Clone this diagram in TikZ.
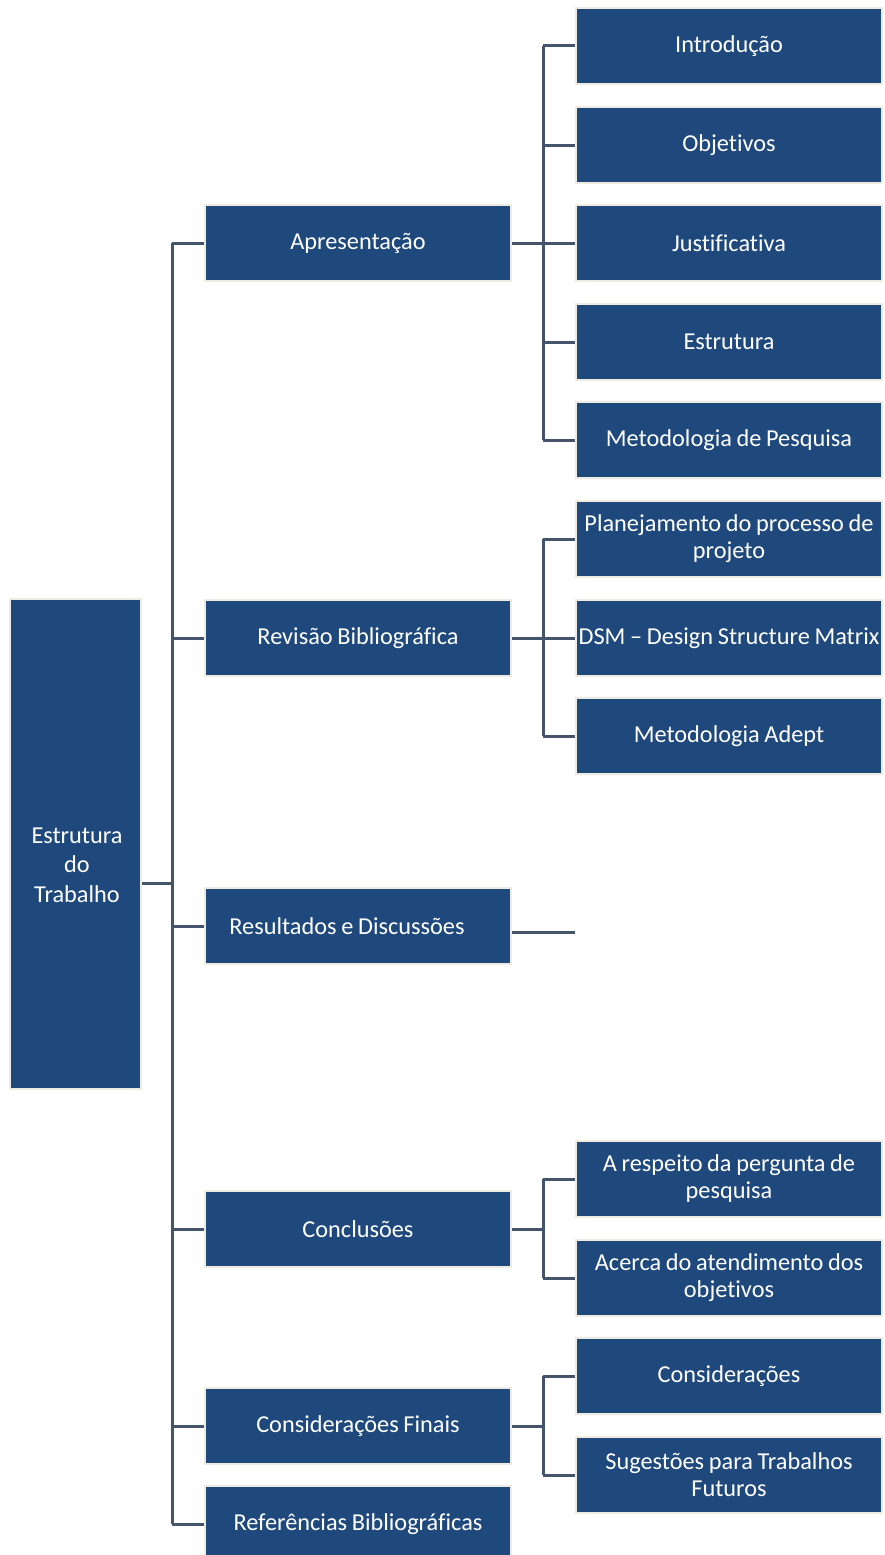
\documentclass[tikz,border=0pt]{standalone}
\usepackage{fontspec}
\setmainfont{Carlito}[RawFeature=-liga, WordSpace=0.85]
\definecolor{boxblue}{RGB}{31,73,125}
\definecolor{boxrim}{RGB}{238,236,225}
\definecolor{wire}{RGB}{68,84,106}
\begin{document}
\begin{tikzpicture}[x=1pt,y=-1pt,
  box/.style={rectangle, fill=boxblue, draw=boxrim, line width=2pt,
    text=white, align=center, inner sep=0pt,
    font=\fontsize{24.3}{27}\selectfont},
  rootbox/.style={box, minimum width=131pt, minimum height=490pt},
  rootlabel/.style={text=white, align=center, inner sep=0pt,
    font=\fontsize{24.3}{29.5}\selectfont},
  midbox/.style={box, minimum width=306pt, minimum height=76pt},
  leafbox/.style={box, minimum width=306pt, minimum height=76pt},
  link/.style={draw=wire, line width=3pt}]
\useasboundingbox (0,0) rectangle (885,1555);

% root
\node[rootbox] (root) at (75.5,844) {};
\node[rootlabel] (roottext) at (77,865) {Estrutura\\do\\Trabalho};

% first level
\node[midbox] (apr) at (358,243) {Apresentação};
\node[midbox] (rev) at (358,638) {Revisão Bibliográfica};
\node[midbox] (res) at (358,926) {\hspace*{-22pt}Resultados e Discussões};
\node[midbox] (con) at (358,1229) {Conclusões};
\node[midbox] (fin) at (358,1426) {Considerações Finais};
\node[midbox] (ref) at (358,1524) {Referências Bibliográficas};

% second level
\node[leafbox] (intro) at (729,46) {Introdução};
\node[leafbox] (obj) at (729,145) {Objetivos};
\node[leafbox] (just) at (729,243) {Justificativa};
\node[leafbox] (estr) at (729,342) {Estrutura};
\node[leafbox] (met) at (729,440) {Metodologia de Pesquisa};
\node[leafbox] (plan) at (729,539) {Planejamento do processo de\\projeto};
\node[leafbox] (dsm) at (729,638) {DSM -- Design Structure Matrix};
\node[leafbox] (adept) at (729,736) {Metodologia Adept};
\node[leafbox] (perg) at (729,1179) {A respeito da pergunta de\\pesquisa};
\node[leafbox] (aten) at (729,1278) {Acerca do atendimento dos\\objetivos};
\node[leafbox] (cons) at (729,1376) {Considerações};
\node[leafbox] (sug) at (729,1475) {Sugestões para Trabalhos\\Futuros};

% root connectors
\coordinate (rx) at (172,0);
\draw[link] (root.east |- 0,883) -- (rx |- 0,883);
\draw[link] (rx |- apr) -- (rx |- ref);
\foreach \n in {apr,rev,res,con,fin,ref}
  \draw[link] (rx |- \n) -- (\n.west);

% second level connectors
\coordinate (cx) at (543,0);
\draw[link] (apr.east) -- (cx |- apr);
\draw[link] (cx |- intro) -- (cx |- met);
\foreach \n in {intro,obj,just,estr,met}
  \draw[link] (cx |- \n) -- (\n.west);

\draw[link] (rev.east) -- (cx |- rev);
\draw[link] (cx |- plan) -- (cx |- adept);
\foreach \n in {plan,dsm,adept}
  \draw[link] (cx |- \n) -- (\n.west);

\coordinate (resend) at (575,932);
\draw[link] (res.east |- resend) -- (resend);

\draw[link] (con.east) -- (cx |- con);
\draw[link] (cx |- perg) -- (cx |- aten);
\foreach \n in {perg,aten}
  \draw[link] (cx |- \n) -- (\n.west);

\draw[link] (fin.east) -- (cx |- fin);
\draw[link] (cx |- cons) -- (cx |- sug);
\foreach \n in {cons,sug}
  \draw[link] (cx |- \n) -- (\n.west);
\end{tikzpicture}
\end{document}
